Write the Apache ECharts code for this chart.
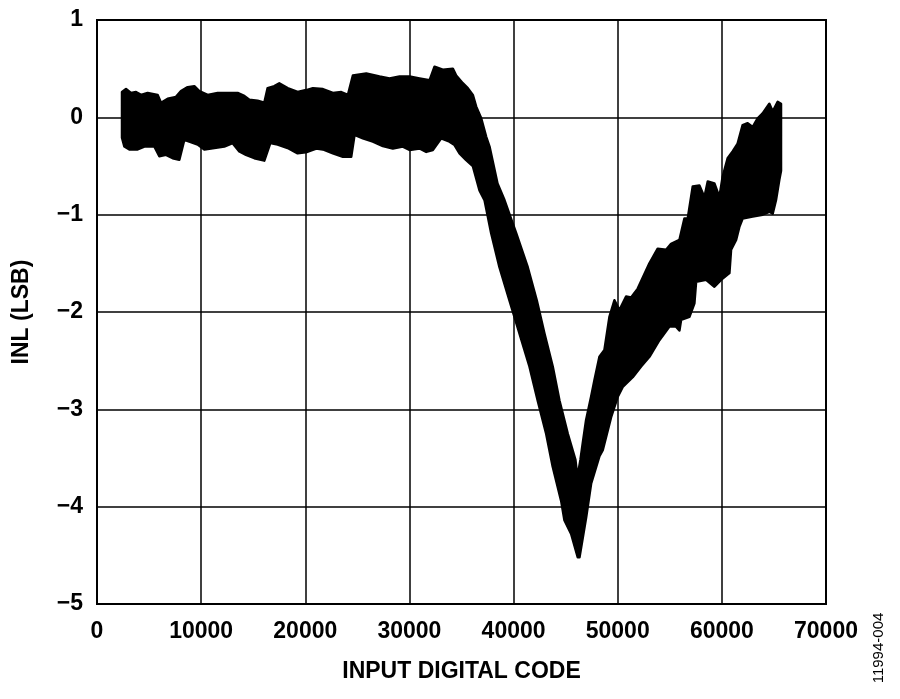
<!DOCTYPE html>
<html>
<head>
<meta charset="utf-8">
<script src="https://cdn.jsdelivr.net/npm/echarts@6/dist/echarts.min.js"></script>
<style>html,body{margin:0;padding:0;background:#fff;}</style>
</head>
<body>
<div id="inl_chart" style="width: 900px;height:699px;"></div>
<script type="text/javascript">

    // top edge of the INL band (code, LSB)
    var upperCodes = [2400, 2785, 3265, 3745, 4225, 4865, 5825, 6145, 6785, 7585, 8065, 8705, 9345, 9825,
        10625, 11585, 12545, 13505, 14145, 14625, 15425, 16065, 16385, 17025, 17505, 18305, 19265, 20095,
        20730, 21690, 22650, 23455, 24090, 24570, 25855, 27130, 28090, 29050, 30010, 30970, 31930, 32410,
        33205, 34165, 34490, 35125, 35605, 36085, 36410, 36890, 37370, 37690, 38455, 39125, 40250, 41360,
        42225, 42965, 43760, 44405, 45200, 45940, 46130, 46420, 46640, 46965, 47445, 47765, 48245, 48725,
        49205, 49685, 50165, 50805, 51285, 51925, 53045, 53840, 54645, 55125, 55925, 56405, 56725, 57205,
        57845, 58325, 58645, 59285, 59765, 60075, 60555, 61035, 61515, 61995, 62475, 62955, 63435, 63915,
        64560, 64880, 65360, 65680];
    var upperInl = [0.26, 0.29, 0.25, 0.26, 0.23, 0.25, 0.23, 0.15, 0.19, 0.21, 0.27, 0.31, 0.32, 0.27,
        0.23, 0.25, 0.25, 0.25, 0.22, 0.18, 0.17, 0.15, 0.30, 0.32, 0.35, 0.30, 0.26, 0.28,
        0.30, 0.29, 0.25, 0.26, 0.23, 0.43, 0.45, 0.42, 0.40, 0.42, 0.42, 0.40, 0.38, 0.52,
        0.49, 0.50, 0.43, 0.35, 0.30, 0.23, 0.11, -0.01, -0.20, -0.30, -0.68, -0.85, -1.19, -1.54,
        -1.88, -2.22, -2.56, -2.91, -3.25, -3.52, -3.70, -3.52, -3.35, -3.11, -2.87, -2.70, -2.46, -2.39,
        -2.05, -1.88, -1.98, -1.84, -1.85, -1.76, -1.50, -1.35, -1.36, -1.30, -1.26, -1.04, -1.04, -0.71,
        -0.70, -0.82, -0.66, -0.68, -0.82, -0.61, -0.42, -0.35, -0.27, -0.08, -0.06, -0.10, -0.01, 0.04,
        0.14, 0.06, 0.16, 0.14];

    // bottom edge of the INL band
    var lowerCodes = [2400, 2625, 3105, 3905, 4545, 5505, 5985, 6625, 7265, 7905, 8385, 8865, 9665, 10305,
        11265, 12225, 13025, 13665, 14305, 15105, 16065, 16640, 17345, 18305, 19265, 20060, 21055, 21690,
        22650, 23610, 24410, 24730, 25530, 26490, 27450, 28405, 29365, 30010, 30970, 31610, 32245, 33050,
        33850, 34330, 34810, 35450, 36085, 36730, 37210, 37850, 38645, 39605, 40565, 41525, 42320, 43130,
        43760, 44570, 44885, 45530, 46160, 46330, 46970, 47450, 48245, 48560, 49365, 50005, 50480, 51440,
        52245, 53045, 54000, 54965, 55600, 55925, 56085, 56885, 57365, 57525, 58485, 59285, 59925, 60725,
        60885, 61365, 61680, 61995, 62955, 63915, 64560, 64880, 65200, 65520, 65680];
    var lowerInl = [-0.21, -0.30, -0.33, -0.33, -0.30, -0.30, -0.40, -0.385, -0.42, -0.435, -0.23, -0.25, -0.28, -0.33,
        -0.315, -0.30, -0.265, -0.35, -0.385, -0.42, -0.445, -0.265, -0.28, -0.315, -0.37, -0.36, -0.32, -0.33,
        -0.37, -0.405, -0.405, -0.18, -0.215, -0.25, -0.295, -0.32, -0.30, -0.335, -0.32, -0.355, -0.335, -0.215,
        -0.25, -0.285, -0.37, -0.44, -0.50, -0.75, -0.85, -1.19, -1.54, -1.88, -2.22, -2.56, -2.91, -3.25,
        -3.59, -3.94, -4.14, -4.28, -4.52, -4.52, -4.11, -3.76, -3.48, -3.42, -3.08, -2.87, -2.77, -2.67,
        -2.56, -2.46, -2.29, -2.15, -2.15, -2.19, -2.08, -2.05, -1.91, -1.69, -1.67, -1.74, -1.67, -1.60,
        -1.36, -1.26, -1.125, -1.04, -1.02, -1.00, -0.97, -0.99, -0.85, -0.64, -0.55];

    var xTickValues = [0, 10000, 20000, 30000, 40000, 50000, 60000, 70000];
    var xTickLabels = ['0', '10000', '20000', '30000', '40000', '50000', '60000', '70000'];
    var yTickValues = [1, 0, -1, -2, -3, -4, -5];
    var yTickLabels = ['1', '0', '\u22121', '\u22122', '\u22123', '\u22124', '\u22125'];

    var FONT = 'Liberation Sans, Arial, sans-serif';

    function tickLabel(values, labels) {
        return function (v) {
            var i = values.indexOf(v);
            return i < 0 ? '' : labels[i];
        }
    }

    // band = top edge left->right, then bottom edge right->left
    function renderBand(params, api) {
        var pts = [];
        for (var i = 0; i < upperCodes.length; i++) {
            pts.push(api.coord([upperCodes[i], upperInl[i]]));
        }
        for (var j = lowerCodes.length - 1; j >= 0; j--) {
            pts.push(api.coord([lowerCodes[j], lowerInl[j]]));
        }
        return {
            type: 'polygon',
            shape: {points: pts},
            style: {fill: '#000', stroke: '#000', lineWidth: 2.5, lineJoin: 'round'}
        };
    }

    var myChart = echarts.init(document.getElementById('inl_chart'));
    myChart.setOption({
        animation: false,
        backgroundColor: '#fff',
        grid: {
            left: 97, right: 74, top: 20, bottom: 95,
            show: true, borderColor: '#000', borderWidth: 2
        },
        xAxis: {
            type: 'value',
            min: 0, max: 70000, interval: 10000,
            name: 'INPUT DIGITAL CODE',
            nameLocation: 'middle',
            nameGap: 56,
            nameTextStyle: {color: '#000', fontFamily: FONT, fontWeight: 'bold', fontSize: 23},
            axisLine: {show: false},
            axisTick: {show: false},
            axisLabel: {
                color: '#000', fontFamily: FONT, fontWeight: 'bold', fontSize: 23, margin: 16,
                formatter: tickLabel(xTickValues, xTickLabels)
            },
            splitLine: {show: true, lineStyle: {color: '#000', width: 1.5}}
        },
        yAxis: {
            type: 'value',
            min: -5, max: 1, interval: 1,
            name: 'INL (LSB)',
            nameLocation: 'middle',
            nameGap: 64,
            nameTextStyle: {color: '#000', fontFamily: FONT, fontWeight: 'bold', fontSize: 23},
            axisLine: {show: false},
            axisTick: {show: false},
            axisLabel: {
                color: '#000', fontFamily: FONT, fontWeight: 'bold', fontSize: 23, margin: 14,
                formatter: tickLabel(yTickValues, yTickLabels)
            },
            splitLine: {show: true, lineStyle: {color: '#000', width: 1.5}}
        },
        graphic: [{
            type: 'text',
            x: 879, y: 648,
            rotation: Math.PI / 2,
            style: {
                text: '11994-004', fill: '#000', font: '15px ' + FONT,
                textAlign: 'center', textVerticalAlign: 'middle'
            }
        }],
        series: [{
            type: 'custom',
            renderItem: renderBand,
            data: [[upperCodes[0], upperInl[0]]],
            clip: true,
            silent: true
        }]
    });
</script>
</body>
</html>
